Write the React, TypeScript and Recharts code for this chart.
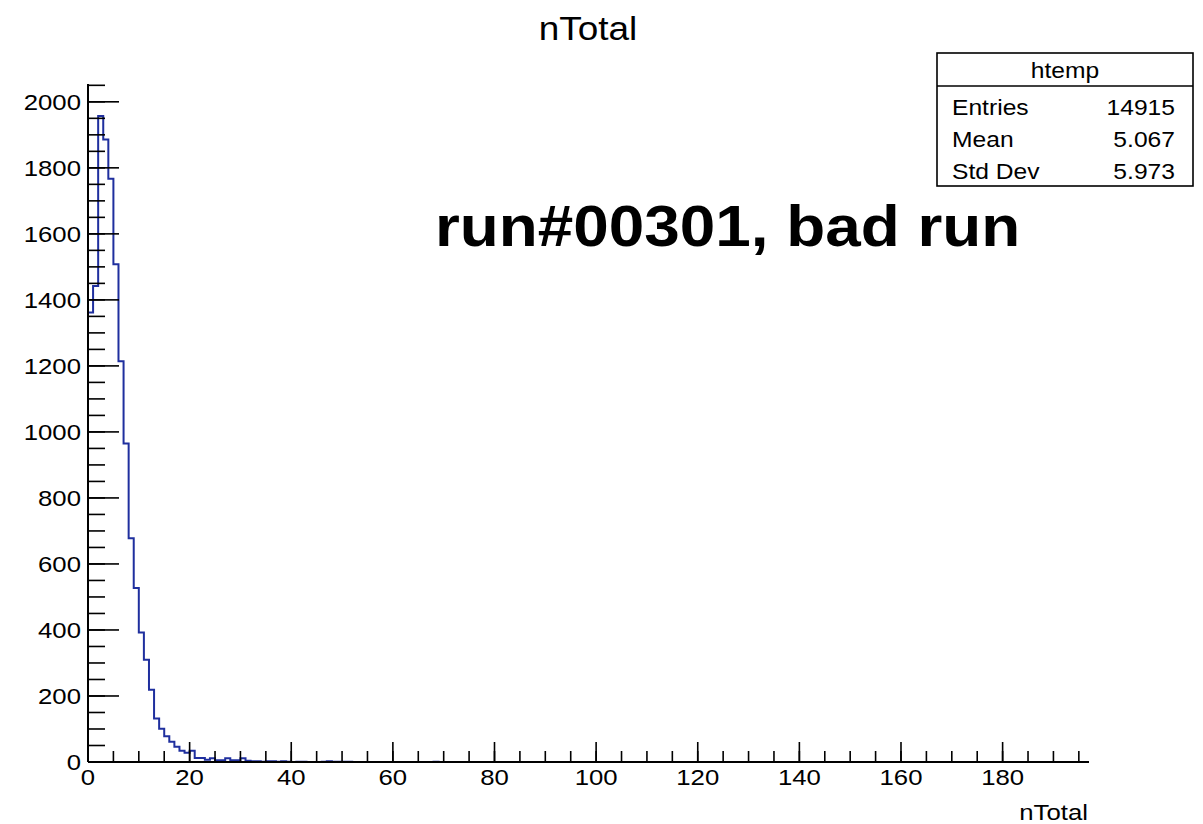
import { ComposedChart, Line, XAxis, YAxis } from 'recharts'

// bin contents of htemp (nTotal), bin width 1, starting at 0
const binCounts = [
  1362, 1442, 1957, 1886, 1767, 1508, 1214, 965, 678, 527,
  392, 310, 219, 132, 101, 78, 61, 46, 34, 28,
  34, 12, 12, 7, 11, 5, 5, 11, 5, 5,
  11, 4, 2, 2, 1, 2, 2, 1, 2, 1,
  0, 1, 1, 0, 0, 0, 1, 2, 1, 1,
  1, 1, 0, 0, 0, 0, 0, 0, 0, 0,
  0, 0, 0, 0, 0, 0, 0, 0, 1, 0,
]

const xMajorTicks = [0, 20, 40, 60, 80, 100, 120, 140, 160, 180]
const xMinorTicks = Array.from({ length: 40 }, (_, i) => i * 5)
const yMajorTicks = [0, 200, 400, 600, 800, 1000, 1200, 1400, 1600, 1800, 2000]
const yMinorTicks = Array.from({ length: 42 }, (_, i) => i * 50)

const statLabels = ['Entries', 'Mean', 'Std Dev']
const statValues = ['14915', '5.067', '5.973']

const X_MAX = 197
const Y_MAX = 2054
const FONT = '"Liberation Sans", Arial, Helvetica, sans-serif'
const SX = 1.12 // the reference text is a bit wide

const histData = [
  ...binCounts.map((n, i) => ({ x: i, n })),
  { x: binCounts.length, n: binCounts[binCounts.length - 1] },
]

function StretchTick(props: any) {
  const { x, y, payload, textAnchor, verticalAnchor } = props
  const dy = verticalAnchor === 'start' ? '0.71em' : '0.35em'
  return (
    <text
      transform={`translate(${x},${y}) scale(${SX},1)`}
      textAnchor={textAnchor}
      dy={dy}
      fontSize={23}
      fontFamily={FONT}
      fill="#000"
    >
      {payload.value}
    </text>
  )
}

// minor axes: keep the tick lines, no labels
const NoLabel = () => <g />

const axisLine = { stroke: '#000', strokeWidth: 2 }
const tickLine = { stroke: '#000', strokeWidth: 1.6 }

export default function App() {
  return (
    <div style={{ position: 'absolute', left: 0, top: 0, width: 1203, height: 824, background: '#fff' }}>
      <ComposedChart
        width={1203}
        height={824}
        data={histData}
        margin={{ top: 84, right: 114, bottom: 0, left: 0 }}
      >
        <XAxis
          xAxisId="main"
          type="number"
          dataKey="x"
          domain={[0, X_MAX]}
          allowDataOverflow
          ticks={xMajorTicks}
          interval={0}
          height={62}
          tickSize={-20}
          tickMargin={27}
          tick={<StretchTick />}
          axisLine={axisLine}
          tickLine={tickLine}
        />
        {/* minor ticks: mirrored axes take no space and point inward */}
        <XAxis
          xAxisId="minor"
          type="number"
          dataKey="x"
          mirror
          domain={[0, X_MAX]}
          allowDataOverflow
          ticks={xMinorTicks}
          interval={0}
          height={20}
          tickSize={11}
          tick={NoLabel}
          axisLine={false}
          tickLine={tickLine}
        />
        <XAxis
          xAxisId="top"
          orientation="top"
          type="number"
          domain={[0, X_MAX]}
          allowDataOverflow
          height={0}
          tick={false}
          tickLine={false}
          axisLine={axisLine}
        />
        <YAxis
          yAxisId="main"
          type="number"
          domain={[0, Y_MAX]}
          allowDataOverflow
          ticks={yMajorTicks}
          interval={0}
          width={88}
          tickSize={-31}
          tickMargin={38}
          tick={<StretchTick />}
          axisLine={axisLine}
          tickLine={tickLine}
        />
        <YAxis
          yAxisId="minor"
          type="number"
          mirror
          domain={[0, Y_MAX]}
          allowDataOverflow
          ticks={yMinorTicks}
          interval={0}
          width={20}
          tickSize={17}
          tick={NoLabel}
          axisLine={false}
          tickLine={tickLine}
        />
        <YAxis
          yAxisId="right"
          orientation="right"
          type="number"
          domain={[0, Y_MAX]}
          allowDataOverflow
          width={0}
          tick={false}
          tickLine={false}
          axisLine={axisLine}
        />
        <Line
          xAxisId="main"
          yAxisId="main"
          dataKey="n"
          type="stepAfter"
          stroke="#1f2f9e"
          strokeWidth={2}
          dot={false}
          activeDot={false}
          isAnimationActive={false}
        />
      </ComposedChart>

      <svg
        width={1203}
        height={824}
        style={{ position: 'absolute', left: 0, top: 0, pointerEvents: 'none' }}
        fontFamily={FONT}
      >
        <text transform={`translate(588,40) scale(${SX},1)`} textAnchor="middle" fontSize={33} fill="#000">
          nTotal
        </text>
        <text transform={`translate(1088,820) scale(${SX},1)`} textAnchor="end" fontSize={23} fill="#000">
          nTotal
        </text>
        <text transform={`translate(435,246) scale(${SX},1)`} fontSize={57} fontWeight="bold" fill="#000">
          run#00301, bad run
        </text>

        <rect x={937} y={53} width={256} height={133} fill="#fff" stroke="#000" strokeWidth={1.6} />
        <line x1={937} x2={1193} y1={86} y2={86} stroke="#000" strokeWidth={1.6} />
        <text transform={`translate(1065,78) scale(${SX},1)`} textAnchor="middle" fontSize={22} fill="#000">
          htemp
        </text>
        {statLabels.map((label, i) => (
          <g key={label}>
            <text transform={`translate(952,${115 + i * 32}) scale(${SX},1)`} fontSize={22} fill="#000">
              {label}
            </text>
            <text
              transform={`translate(1175,${115 + i * 32}) scale(${SX},1)`}
              textAnchor="end"
              fontSize={22}
              fill="#000"
            >
              {statValues[i]}
            </text>
          </g>
        ))}
      </svg>
    </div>
  )
}
